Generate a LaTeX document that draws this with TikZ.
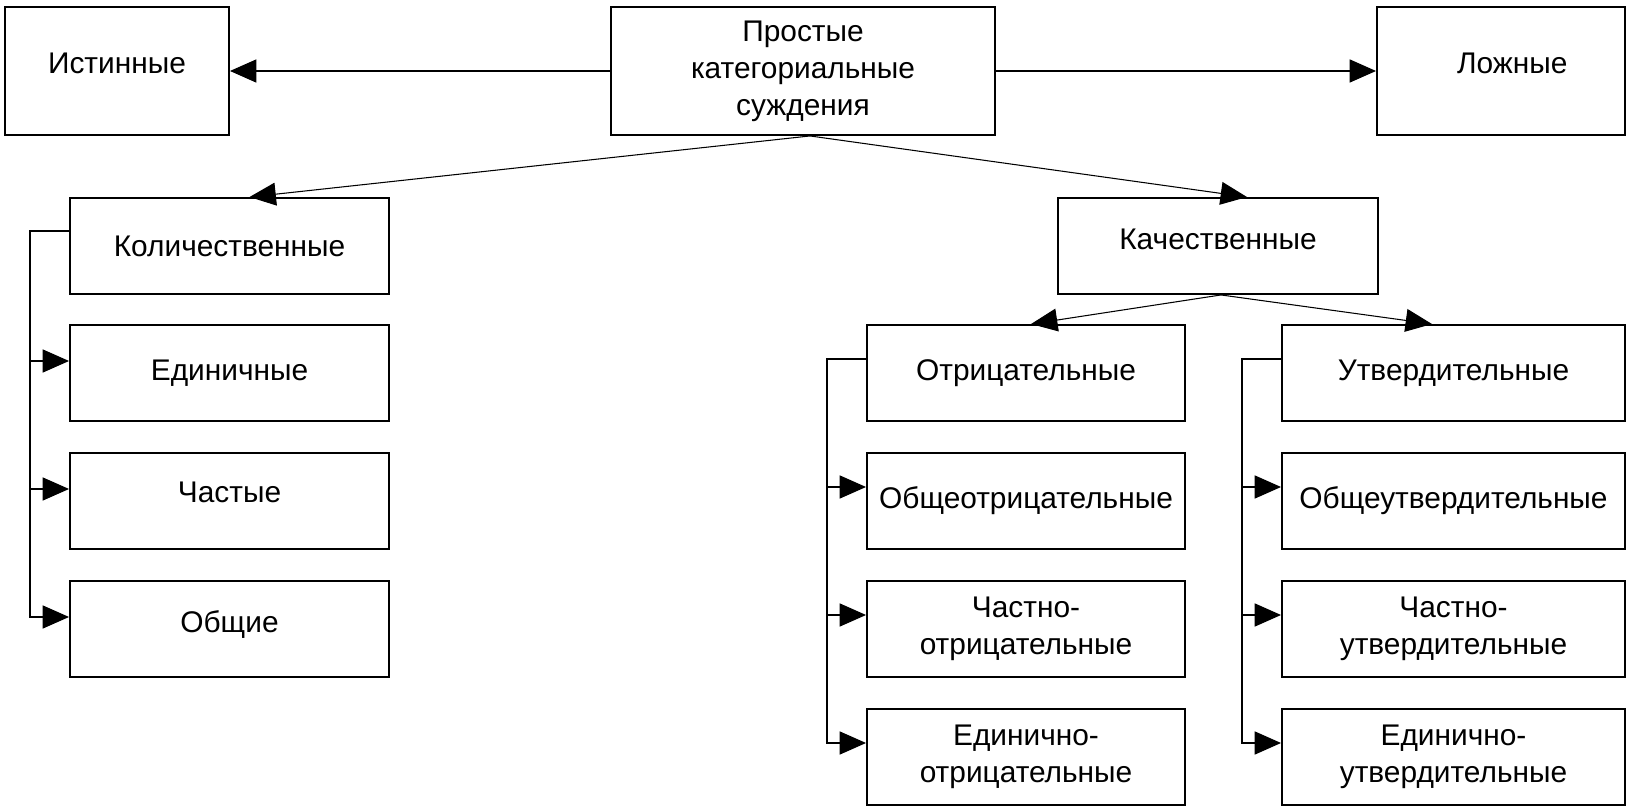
\documentclass[tikz,border=0pt]{standalone}
\usepackage{fontspec}
\setmainfont{Liberation Sans}
\usetikzlibrary{arrows.meta,calc}
\begin{document}
\begin{tikzpicture}[x=0.02cm, y=-0.02cm,
    box/.style={draw, line width=1.1pt, inner sep=0pt, align=center, font=\fontsize{17}{21}\selectfont},
    tip/.style={-{Triangle[length=15pt,width=13pt]}},
    link/.style={tip, line width=1.1pt},
    diag/.style={tip, line width=0.6pt}]
  \useasboundingbox (0,0) rectangle (1630,810);
  \node[box, minimum width=4.48cm, minimum height=2.56cm, text depth=0.32cm] (ist) at (117,71){Истинные};
  \node[box, minimum width=7.68cm, minimum height=2.56cm] (prost) at (803,71){Простые\\категориальные\\суждения};
  \node[box, minimum width=4.96cm, minimum height=2.56cm, text depth=0.32cm] (lozh) at (1501,71){\hspace{0.45cm}Ложные};
  \node[box, minimum width=6.38cm, minimum height=1.92cm] (kol) at (229.5,246){Количественные};
  \node[box, minimum width=6.38cm, minimum height=1.92cm, text depth=0.1cm] (ed) at (229.5,373){Единичные};
  \node[box, minimum width=6.38cm, minimum height=1.92cm, text depth=0.36cm] (chast) at (229.5,501){Частые};
  \node[box, minimum width=6.38cm, minimum height=1.92cm, text depth=0.28cm] (obsh) at (229.5,629){Общие};
  \node[box, minimum width=6.4cm, minimum height=1.92cm, text depth=0.28cm] (kach) at (1218,246){Качественные};
  \node[box, minimum width=6.36cm, minimum height=1.92cm] (otr) at (1026,373){Отрицательные};
  \node[box, minimum width=6.36cm, minimum height=1.92cm] (obotr) at (1026,501){Общеотрицательные};
  \node[box, minimum width=6.36cm, minimum height=1.92cm] (chotr) at (1026,629){Частно-\\отрицательные};
  \node[box, minimum width=6.36cm, minimum height=1.92cm] (edotr) at (1026,757){Единично-\\отрицательные};
  \node[box, minimum width=6.86cm, minimum height=1.92cm] (utv) at (1453.5,373){Утвердительные};
  \node[box, minimum width=6.86cm, minimum height=1.92cm] (obutv) at (1453.5,501){Общеутвердительные};
  \node[box, minimum width=6.86cm, minimum height=1.92cm] (chutv) at (1453.5,629){Частно-\\утвердительные};
  \node[box, minimum width=6.86cm, minimum height=1.92cm] (edutv) at (1453.5,757){Единично-\\утвердительные};
  % top row
  \draw[link](prost.west) -- (ist.east);
  \draw[link](prost.east) -- (lozh.west);
  \draw[diag]([xshift=0.14cm]prost.south) -- ([xshift=0.4cm]kol.north);
  \draw[diag]([xshift=0.14cm]prost.south) -- ([xshift=0.58cm]kach.north);
  \draw[diag]([xshift=0.06cm]kach.south) -- ([xshift=0.1cm]otr.north);
  \draw[diag]([xshift=0.06cm]kach.south) -- ([xshift=-0.43cm]utv.north);
  % left column
  \draw[link]($(kol.west)+(0,-15)$) -| ($(ed.west)+(-39,-12)$) -- ($(ed.west)+(0,-12)$);
  \draw[link]($(kol.west)+(0,-15)$) -| ($(chast.west)+(-39,-12)$) -- ($(chast.west)+(0,-12)$);
  \draw[link]($(kol.west)+(0,-15)$) -| ($(obsh.west)+(-39,-12)$) -- ($(obsh.west)+(0,-12)$);
  % negative column
  \draw[link]($(otr.west)+(0,-14)$) -| ($(obotr.west)+(-39,-14)$) -- ($(obotr.west)+(0,-14)$);
  \draw[link]($(otr.west)+(0,-14)$) -| ($(chotr.west)+(-39,-14)$) -- ($(chotr.west)+(0,-14)$);
  \draw[link]($(otr.west)+(0,-14)$) -| ($(edotr.west)+(-39,-14)$) -- ($(edotr.west)+(0,-14)$);
  % affirmative column
  \draw[link]($(utv.west)+(0,-14)$) -| ($(obutv.west)+(-39,-14)$) -- ($(obutv.west)+(0,-14)$);
  \draw[link]($(utv.west)+(0,-14)$) -| ($(chutv.west)+(-39,-14)$) -- ($(chutv.west)+(0,-14)$);
  \draw[link]($(utv.west)+(0,-14)$) -| ($(edutv.west)+(-39,-14)$) -- ($(edutv.west)+(0,-14)$);
\end{tikzpicture}
\end{document}
